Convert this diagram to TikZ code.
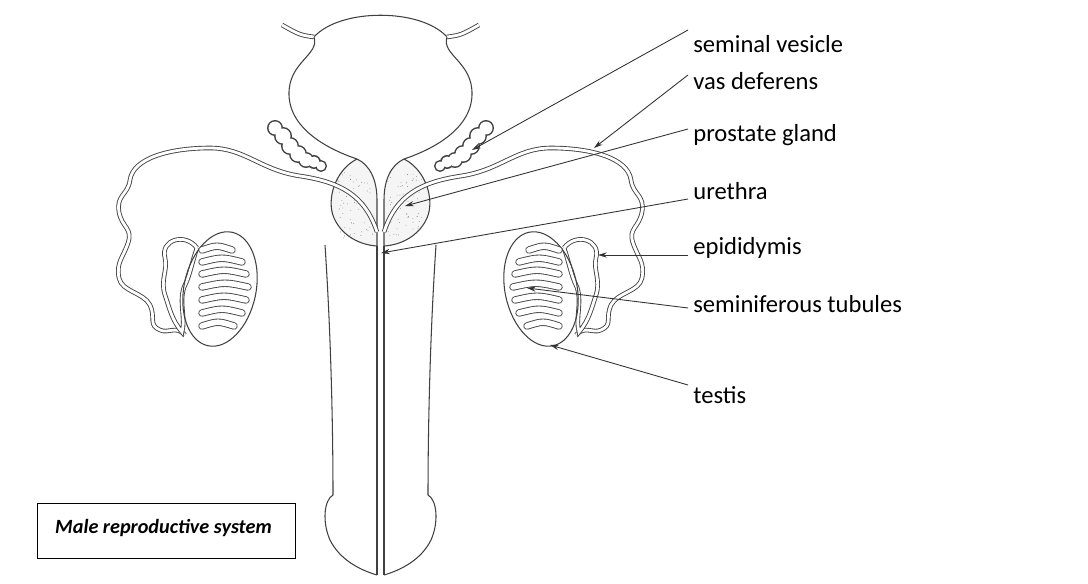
\documentclass[tikz,border=0pt]{standalone}
\usepackage{fontspec}
\setmainfont{Carlito}
\usetikzlibrary{arrows.meta,calc}

\tikzset{
  organ/.style={draw=black!75,line width=0.6pt},
  duct/.style={draw=black!75,line width=0.5pt,double=white,double distance=1.6pt},
  tubule/.style={draw=black!75,line width=0.5pt,double=white,double distance=3.2pt,line cap=round},
  pointer/.style={draw=black!80,line width=0.5pt,-{Stealth[length=5pt,width=3pt]}},
  lbl/.style={anchor=west,font=\fontsize{14}{16}\selectfont,inner sep=0pt}
}

% one half of the system, the other half is drawn mirrored
\newcommand{\halfsystem}{%
  % bladder horn
  \draw[duct] (314,37) .. controls (300,35) .. (282,25);
  % bladder side
  \draw[organ] (314,37) .. controls (320,55) and (288,62) .. (289,95)
    .. controls (290,130) and (330,150) .. (357,159);
  % prostate lobe
  \draw[organ,fill=black!4] (357,159) .. controls (335,170) and (326,200) .. (334,218)
    .. controls (342,236) and (360,245) .. (377,246) -- (377,200)
    .. controls (377,180) and (370,165) .. (357,159);
  \foreach \i in {1,...,60}
    \fill[black!55] ({338+rnd*36},{172+rnd*66}) circle (0.4);
  % urethra wall and penis
  \draw[organ] (377,246) -- (377,575);
  \draw[organ] (325,245) .. controls (332,350) and (333,450) .. (333,495)
    .. controls (324,500) and (322,522) .. (330,540)
    .. controls (340,560) and (360,570) .. (377,575);
  % vas deferens
  \draw[duct] (377,232) .. controls (365,195) and (340,182) .. (300,176)
    .. controls (260,170) and (245,148) .. (210,148)
    .. controls (170,148) and (133,158) .. (130,180)
    .. controls (128,195) and (116,195) .. (119,212)
    .. controls (122,228) and (133,228) .. (128,243)
    .. controls (123,258) and (116,262) .. (119,278)
    .. controls (122,292) and (143,292) .. (150,305)
    .. controls (156,318) and (148,325) .. (160,330)
    .. controls (168,334) and (176,325) .. (185,335);
  % seminal vesicle
  \foreach \cx/\cy/\r in {275/128/7,283/136/8,290/146/8,298/154/8,306/160/7,314/162/6,321/166/5}
    \draw[organ,line width=1.1pt] (\cx,\cy) circle (\r);
  \foreach \cx/\cy/\r in {275/128/7,283/136/8,290/146/8,298/154/8,306/160/7,314/162/6,321/166/5}
    \fill[white] (\cx,\cy) circle ({\r-0.5});
  % epididymis
  \draw[duct] (197,248) .. controls (185,232) and (160,240) .. (165,258)
    .. controls (168,270) and (160,280) .. (165,295)
    .. controls (170,310) and (172,320) .. (182,332)
    .. controls (186,318) and (178,300) .. (185,285)
    .. controls (190,275) and (192,262) .. (197,248);
  % testis
  \draw[organ] (220,289) ellipse [x radius=36,y radius=58,rotate=-12];
  \foreach \y/\l in {250/30,262/40,274/44,287/46,300/44,313/40,326/32}
    \draw[tubule] (202,\y) .. controls ({202+\l/2},{\y-5}) .. ({202+\l},\y);
}

\begin{document}
\begin{tikzpicture}[x=0.02cm,y=-0.02cm]
\useasboundingbox (0,0) rectangle (1088,584);
\pgfmathsetseed{7}
% bladder top
\draw[organ] (314,37) .. controls (340,8) and (421,8) .. (447,37);
\halfsystem
\begin{scope}[shift={(761,0)},xscale=-1]
\halfsystem
\end{scope}

% the labels
\node[lbl] (sv) at (693,44) {seminal vesicle};
\node[lbl] (vd) at (693,81) {vas deferens};
\node[lbl] (pg) at (693,135) {prostate gland};
\node[lbl] (ur) at (693,191) {urethra};
\node[lbl] (ep) at (693,248) {epididymis};
\node[lbl] (st) at (693,304) {seminiferous tubules};
\node[lbl] (te) at (693,395) {testis};

\coordinate (svT) at (472,150);
\coordinate (vdT) at (594,148);
\coordinate (pgT) at (405,206);
\coordinate (urT) at (381,253);
\coordinate (epT) at (598,255);
\coordinate (stT) at (527,288);
\coordinate (teT) at (550,345);

\draw[pointer] ($(sv.west)+(-5,-14)$) -- (svT);
\draw[pointer] ($(vd.west)+(-5,-6)$) -- (vdT);
\draw[pointer] ($(pg.west)+(-5,-6)$) -- (pgT);
\draw[pointer] ($(ur.west)+(-5,8)$) -- (urT);
\draw[pointer] ($(ep.west)+(-5,7)$) -- (epT);
\draw[pointer] ($(st.west)+(-5,4)$) -- (stT);
\draw[pointer] ($(te.west)+(-5,-10)$) -- (teT);

% caption box
\node[draw=black,line width=0.6pt,minimum width=258*0.02cm,minimum height=55*0.02cm,
  anchor=north west,inner sep=0pt] (cap) at (37,503) {};
\node[anchor=west,font=\fontsize{11.5}{13}\selectfont\bfseries\itshape] (capt)
  at ($(cap.west)+(12,-3)$) {Male reproductive system};
\end{tikzpicture}
\end{document}
